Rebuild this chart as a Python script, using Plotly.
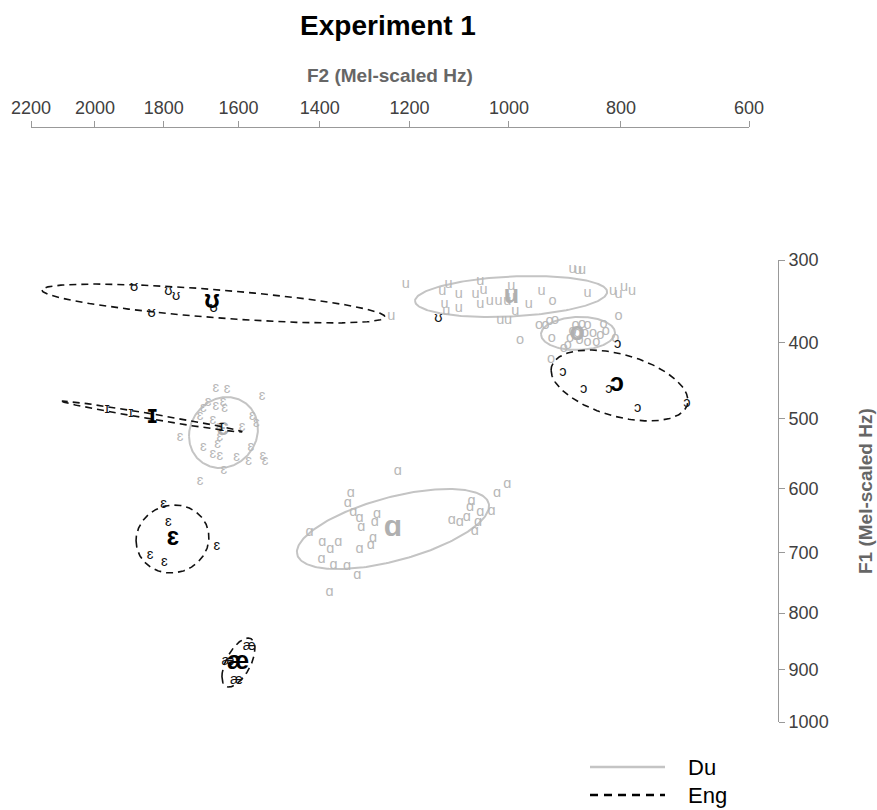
import numpy as np
import plotly.graph_objects as go

# ---------------- tick labels (Hz) on mel-scaled axes ----------------
f2_ticks_hz = [2200, 2000, 1800, 1600, 1400, 1200, 1000, 800, 600]
f1_ticks_hz = [300, 400, 500, 600, 700, 800, 900, 1000]

def mel(f):
    return 2595.0 * np.log10(1.0 + np.asarray(f, dtype=float) / 700.0)

# ---------------- token data (mel) ----------------
# Dutch /u/
du_u_f2 = [1130, 1084, 1076, 1063, 1042, 1036, 1032, 1081, 1079, 1063, 1036, 1024, 1013, 1002, 997,
           997, 992, 1011, 1001, 975, 959, 901, 920, 913, 908, 869, 862, 855, 845, 1148]
du_u_f1 = [434, 442, 434, 446, 447, 429, 441, 460, 468, 464, 460, 455, 455, 456, 436,
           450, 468, 480, 480, 460, 443, 445, 414, 416, 416, 442, 446, 437, 443, 475]
# Dutch /o/
du_o_f2 = [945, 862, 962, 954, 949, 942, 986, 946, 916, 908, 901, 881, 920, 904, 894,
           885, 878, 923, 911, 901, 890, 866, 926, 931, 947, 914]
du_o_f1 = [455, 475, 486, 486, 482, 480, 506, 504, 487, 485, 487, 485, 494, 497, 497,
           499, 494, 503, 506, 508, 509, 503, 513, 517, 530, 497]
# Dutch /ɛ/
du_e_f2 = [1369, 1355, 1311, 1379, 1369, 1360, 1358, 1385, 1389, 1373, 1323, 1318, 1336, 1365,
           1414, 1364, 1367, 1385, 1373, 1364, 1343, 1328, 1325, 1310, 1307, 1359, 1389]
du_e_f1 = [568, 570, 579, 586, 591, 586, 594, 594, 604, 610, 605, 614, 618, 618,
           632, 631, 640, 644, 654, 656, 657, 663, 645, 656, 662, 674, 689]
# Dutch /ɑ/
du_a_f2 = [1140, 1199, 1203, 1196, 1188, 1166, 1169, 1186, 1251, 1235, 1215, 1225, 1236, 1221, 1204,
           1188, 1171, 1174, 1191, 1226, 1002, 1015, 1047, 1049, 1036, 1022, 1072, 1062, 1053, 1039, 1043]
du_a_f1 = [676, 704, 717, 729, 737, 731, 741, 748, 755, 768, 767, 776, 789, 797, 798,
           777, 762, 771, 810, 832, 692, 704, 714, 722, 729, 727, 739, 741, 735, 742, 753]

# English tokens
en_U_f2 = [1472, 1429, 1419, 1450, 1372, 1089]
en_U_f1 = [438, 442, 449, 471, 464, 477]
en_I_f2 = [1506, 1476, 1362]
en_I_f1 = [595, 600, 619]
en_E_f2 = [1435, 1429, 1368, 1452, 1434]
en_E_f1 = [718, 741, 773, 784, 793]
en_AE_f2 = [1327, 1354, 1343]
en_AE_f1 = [902, 922, 946]
en_O_f2 = [863, 932, 906, 874, 838, 776]
en_O_f1 = [511, 547, 569, 570, 594, 588]

# ---------------- category means (mel) ----------------
du_mean_labels = ["u", "o", "ɛ", "ɑ"]
du_mean_f2 = [997, 914, 1360, 1146]
du_mean_f1 = [449, 497, 621, 749]
du_mean_sizes = [25, 25, 24, 30]

en_mean_labels = ["ʊ", "ɪ", "ɛ", "æ", "ɔ"]
en_mean_f2 = [1374, 1449, 1423, 1341, 864]
en_mean_f1 = [456, 605, 763, 923, 564]

# ---------------- ellipse parameters (mel): centre, half extents, correlation ----------------
du_ell_cx = [997.3, 913.0, 1359.5, 1146.0]
du_ell_cy = [449.2, 497.1, 625.3, 750.2]
du_ell_rx = [121.0, 46.6, 43.4, 121.0]
du_ell_ry = [26.5, 21.4, 45.9, 51.8]
du_ell_rho = [0.22, 0.05, 0.10, 0.575]

en_ell_cx = [1372.1, 1449.5, 1423.7, 1340.6, 860.7]
en_ell_cy = [458.3, 604.6, 763.1, 923.0, 564.4]
en_ell_rx = [216.0, 113.4, 45.9, 20.8, 86.2]
en_ell_ry = [25.2, 20.1, 44.0, 31.7, 45.9]
en_ell_rho = [-0.69, -0.985, 0.05, 0.58, -0.43]

GRAY = "#b8b8b8"
ELL_GRAY = "#c4c4c4"
FONT = "Arial, Liberation Sans, DejaVu Sans, sans-serif"


def ellipse(cx, cy, rx, ry, rho, n=240):
    t = np.linspace(0, 2 * np.pi, n)
    x = cx + rx * np.cos(t)
    y = cy + ry * (rho * np.cos(t) + np.sqrt(1 - rho ** 2) * np.sin(t))
    return x, y


fig = go.Figure()

# Dutch ellipses
for cx, cy, rx, ry, rho in zip(du_ell_cx, du_ell_cy, du_ell_rx, du_ell_ry, du_ell_rho):
    ex, ey = ellipse(cx, cy, rx, ry, rho)
    fig.add_trace(go.Scatter(x=ex, y=ey, mode="lines", line=dict(color=ELL_GRAY, width=2),
                             showlegend=False, hoverinfo="skip"))

# Dutch tokens
for sym, xs, ys in [("u", du_u_f2, du_u_f1), ("o", du_o_f2, du_o_f1),
                    ("ɛ", du_e_f2, du_e_f1), ("ɑ", du_a_f2, du_a_f1)]:
    fig.add_trace(go.Scatter(x=xs, y=ys, mode="text", text=[sym] * len(xs),
                             textfont=dict(family=FONT, size=14.5, color=GRAY),
                             textposition="middle center", cliponaxis=False,
                             showlegend=False, hoverinfo="skip"))

# Dutch means
fig.add_trace(go.Scatter(x=du_mean_f2, y=du_mean_f1, mode="text",
                         text=["<b>%s</b>" % s for s in du_mean_labels],
                         textfont=dict(family=FONT, size=du_mean_sizes, color="#b0b0b0"),
                         textposition="middle center", cliponaxis=False,
                         showlegend=False, hoverinfo="skip"))

# English ellipses
for cx, cy, rx, ry, rho in zip(en_ell_cx, en_ell_cy, en_ell_rx, en_ell_ry, en_ell_rho):
    ex, ey = ellipse(cx, cy, rx, ry, rho)
    fig.add_trace(go.Scatter(x=ex, y=ey, mode="lines",
                             line=dict(color="#111111", width=1.6, dash="7px,5px"),
                             showlegend=False, hoverinfo="skip"))

# English tokens
for sym, xs, ys in [("ʊ", en_U_f2, en_U_f1), ("ɪ", en_I_f2, en_I_f1), ("ɛ", en_E_f2, en_E_f1),
                    ("æ", en_AE_f2, en_AE_f1), ("ɔ", en_O_f2, en_O_f1)]:
    fig.add_trace(go.Scatter(x=xs, y=ys, mode="text", text=[sym] * len(xs),
                             textfont=dict(family=FONT, size=14.5, color="#111111"),
                             textposition="middle center", cliponaxis=False,
                             showlegend=False, hoverinfo="skip"))

# English means
fig.add_trace(go.Scatter(x=en_mean_f2, y=en_mean_f1, mode="text",
                         text=["<b>%s</b>" % s for s in en_mean_labels],
                         textfont=dict(family=FONT, size=25, color="#000000"),
                         textposition="middle center", cliponaxis=False,
                         showlegend=False, hoverinfo="skip"))

# plot-area geometry: l=31, r=99, t=127, b=88 -> 747 x 595 px
fig.update_layout(
    width=877, height=810,
    margin=dict(l=31, r=99, t=127, b=88),
    plot_bgcolor="white", paper_bgcolor="white",
    font=dict(family=FONT),
    title=dict(text="<b>Experiment 1</b>", x=388 / 877, xanchor="center",
               y=1 - 25 / 810, yanchor="middle", font=dict(size=28, color="#000000")),
    xaxis=dict(domain=[0, 718 / 747], range=[float(mel(2200)), float(mel(600))],
               anchor="free", position=1, side="top", automargin=False,
               showline=True, linecolor="#999999", linewidth=1,
               ticks="outside", ticklen=6, tickcolor="#999999",
               tickvals=list(mel(f2_ticks_hz)), ticktext=[str(v) for v in f2_ticks_hz],
               tickfont=dict(size=18, color="#404040"),
               showgrid=False, zeroline=False),
    yaxis=dict(domain=[0, 462 / 595], range=[float(mel(1000)), float(mel(300))],
               anchor="free", position=1, side="right", automargin=False,
               showline=True, linecolor="#999999", linewidth=1,
               ticks="outside", ticklen=6, tickcolor="#999999",
               tickvals=list(mel(f1_ticks_hz)), ticktext=[str(v) for v in f1_ticks_hz],
               tickfont=dict(size=18, color="#404040"),
               showgrid=False, zeroline=False),
    showlegend=False,
)

annotations = [
    dict(text="<b>F2 (Mel-scaled Hz)</b>", xref="paper", yref="paper",
         x=(390 - 31) / 747, y=(722 - 75) / 595, xanchor="center", yanchor="middle",
         showarrow=False, font=dict(size=19, color="#666666")),
    dict(text="<b>F1 (Mel-scaled Hz)</b>", xref="paper", yref="paper",
         x=(865 - 31) / 747, y=(722 - 491) / 595, xanchor="center", yanchor="middle",
         textangle=-90, showarrow=False, font=dict(size=19, color="#666666")),
    dict(text="Du", xref="paper", yref="paper", x=(686 - 31) / 747, y=(722 - 767) / 595,
         xanchor="left", yanchor="middle", showarrow=False, font=dict(size=22, color="#000000")),
    dict(text="Eng", xref="paper", yref="paper", x=(686 - 31) / 747, y=(722 - 795) / 595,
         xanchor="left", yanchor="middle", showarrow=False, font=dict(size=22, color="#000000")),
]
fig.update_layout(annotations=annotations)

fig.update_layout(shapes=[
    dict(type="line", xref="paper", yref="paper", x0=(590 - 31) / 747, x1=(665 - 31) / 747,
         y0=(722 - 767) / 595, y1=(722 - 767) / 595, line=dict(color=ELL_GRAY, width=2.5)),
    dict(type="line", xref="paper", yref="paper", x0=(590 - 31) / 747, x1=(665 - 31) / 747,
         y0=(722 - 795) / 595, y1=(722 - 795) / 595,
         line=dict(color="#000000", width=2.5, dash="8px,6px")),
])

# remove the default page margin so the 877x810 figure fills the window exactly
fig.write_html("out.html",
               config={"displayModeBar": False},
               post_script="document.body.style.margin='0';document.body.style.overflow='hidden';")
